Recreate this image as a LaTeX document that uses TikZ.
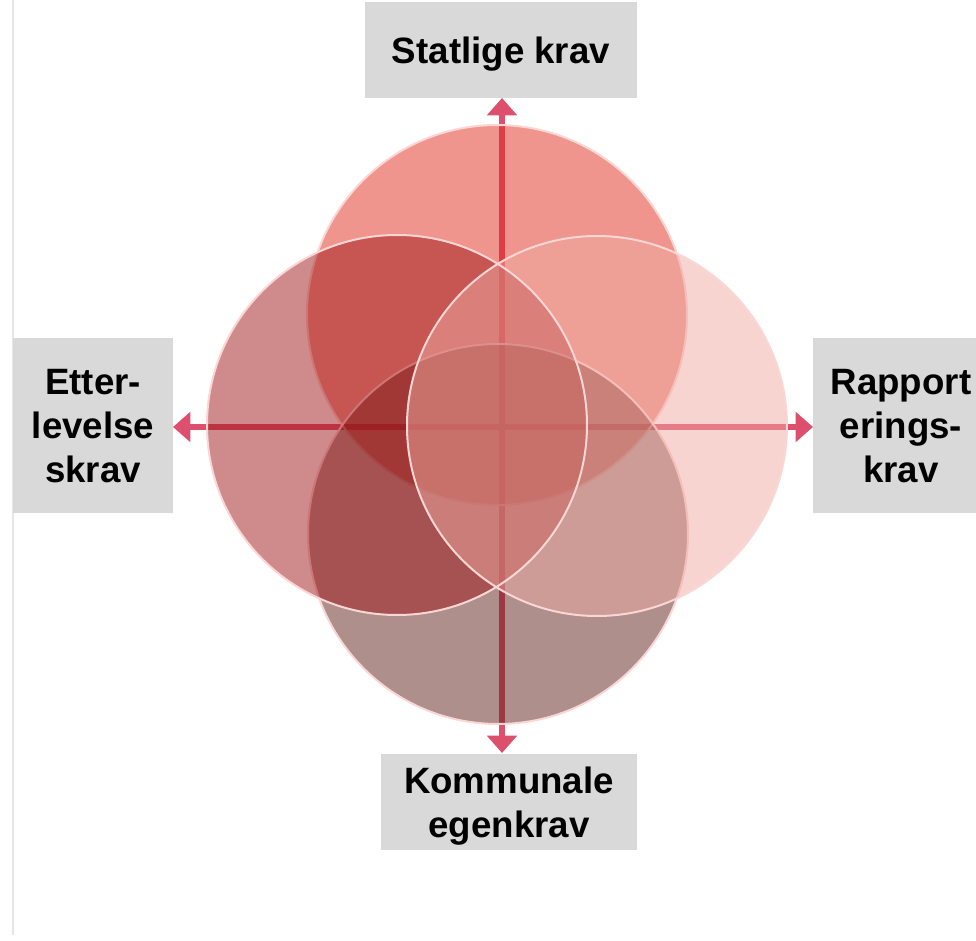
\documentclass[tikz,border=0pt]{standalone}
\usepackage{fontspec}
\setmainfont{Liberation Sans}
\usetikzlibrary{arrows.meta}
\definecolor{boxgray}{RGB}{217,217,217}
\definecolor{arrowc}{RGB}{220,80,110}
\definecolor{ctop}{RGB}{223,43,27}
\definecolor{cleft}{RGB}{159,23,25}
\definecolor{cright}{RGB}{239,169,161}
\definecolor{cbot}{RGB}{93,31,25}
\definecolor{rim}{RGB}{250,214,212}
\definecolor{framegray}{RGB}{230,230,230}
\begin{document}
\begin{tikzpicture}[x=0.75pt,y=-0.75pt,
 labelbox/.style={fill=boxgray, inner sep=0pt, text depth=0pt, font=\fontsize{27.5}{33}\selectfont\bfseries, align=center},
 axisline/.style={draw=arrowc, line width=4.5pt, {Triangle[width=22pt,length=13pt]}-{Triangle[width=22pt,length=13pt]}},
 disc/.style={fill=#1, fill opacity=0.5, draw=none},
 rimline/.style={draw=rim, line width=1.5pt},
]
\useasboundingbox (0,0) rectangle (976,941);
\draw[framegray, line width=1.5pt] (12.5,0) -- (12.5,935);

% axis end points
\coordinate (atop) at (502,98);
\coordinate (abot) at (502,753);
\coordinate (aleft) at (173,427);
\coordinate (aright) at (813,427);
\draw[axisline] (atop) -- (abot);
\draw[axisline] (aleft) -- (aright);

% circle centres
\coordinate (ct) at (497,315);
\coordinate (cb) at (498,534);
\coordinate (cl) at (397,425);
\coordinate (cr) at (597,426);

\fill[disc=ctop] (ct) circle[radius=142.5pt];
\draw[rimline] (ct) circle[radius=142.5pt];
\fill[disc=cbot] (cb) circle[radius=142.5pt];
\draw[rimline] (cb) circle[radius=142.5pt];
\fill[disc=cleft] (cl) circle[radius=142.5pt];
\fill[disc=cright] (cr) circle[radius=142.5pt];
\draw[rimline] (cl) circle[radius=142.5pt];
\draw[rimline] (cr) circle[radius=142.5pt];

% label boxes
\node[labelbox, minimum width=204pt, minimum height=72pt] (topbox) at (501,50) {Statlige krav};
\node[labelbox, minimum width=120pt, minimum height=131.25pt] (leftbox) at (93,425.5) {Etter-\\levelse\\skrav};
\node[labelbox, minimum width=132pt, minimum height=131.25pt] (rightbox) at (901,425.5) {Rapport\\erings-\\krav};
\node[labelbox, minimum width=192pt, minimum height=72pt] (botbox) at (509,802) {Kommunale\\egenkrav};
\end{tikzpicture}
\end{document}
